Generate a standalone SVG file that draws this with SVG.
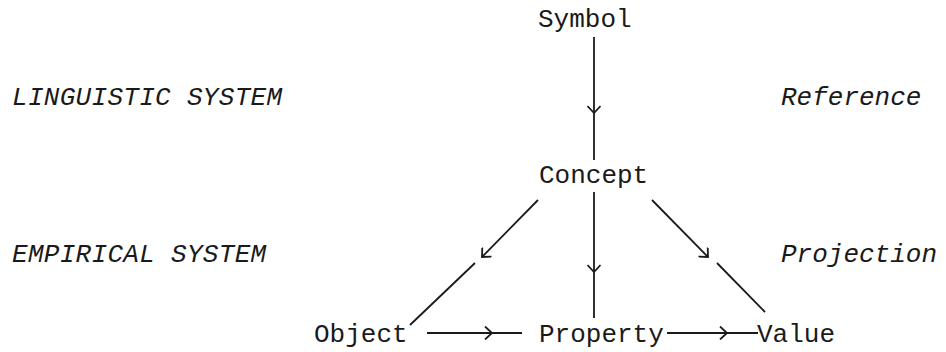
<svg xmlns="http://www.w3.org/2000/svg" width="946" height="352" viewBox="0 0 946 352">
<style>
.t{font-family:"Liberation Mono","Courier New",monospace;font-size:26px;fill:#1a1a1a}
.i{font-style:italic}
.c{stroke:#1a1a1a;stroke-width:1.8;fill:none}
</style>
<defs>
<marker id="chev" viewBox="0 0 10 14" markerWidth="10" markerHeight="14" refX="8" refY="7" orient="auto" markerUnits="userSpaceOnUse">
<path d="M1,0.5 L8,7 L1,13.5" fill="none" stroke="#1a1a1a" stroke-width="1.8"/>
</marker>
</defs>
<rect width="946" height="352" fill="#fff"/>
<g id="labels">
<text class="t i" x="12" y="105" letter-spacing="0.3">LINGUISTIC SYSTEM</text>
<text class="t i" x="12" y="262" letter-spacing="0.3">EMPIRICAL SYSTEM</text>
<text class="t i" x="781" y="105">Reference</text>
<text class="t i" x="781" y="262">Projection</text>
</g>
<g id="symbol"><text class="t" x="538" y="27">Symbol</text></g>
<g id="concept"><text class="t" x="539" y="183">Concept</text></g>
<g id="object"><text class="t" x="314" y="342">Object</text></g>
<g id="property"><text class="t" x="539" y="342">Property</text></g>
<g id="value"><text class="t" x="757" y="342">Value</text></g>
<g id="connectors" class="c">
<path d="M594,37 L594,113 L594,160" marker-mid="url(#chev)"/>
<path d="M594,192 L594,272 L594,318" marker-mid="url(#chev)"/>
<path d="M538,200 L482,257" marker-end="url(#chev)"/>
<path d="M475,263 L410,325"/>
<path d="M652,200 L708,257" marker-end="url(#chev)"/>
<path d="M717,263 L765,312"/>
<path d="M427,333 L492,333 L522,333" marker-mid="url(#chev)"/>
<path d="M667,333 L727,333 L758,333" marker-mid="url(#chev)"/>
</g>
</svg>
